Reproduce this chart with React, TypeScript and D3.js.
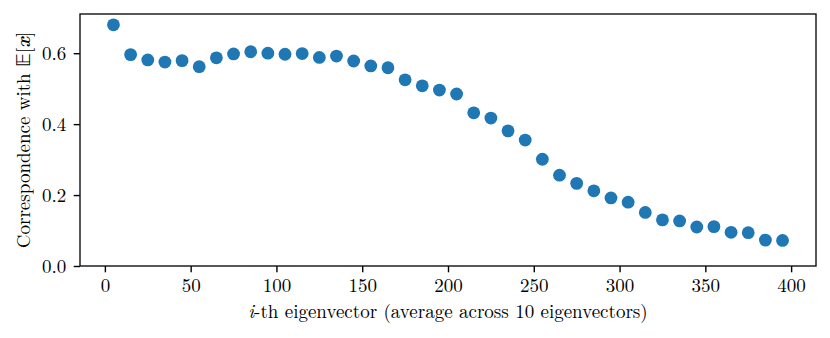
import * as d3 from "d3";
import { useLayoutEffect, useRef } from "react";

// eigenvector index (centre of each group of 10)
const eigIndex = [
  5, 15, 25, 35, 45, 55, 65, 75, 85, 95, 105, 115, 125, 135, 145, 155, 165, 175, 185, 195,
  205, 215, 225, 235, 245, 255, 265, 275, 285, 295, 305, 315, 325, 335, 345, 355, 365, 375, 385, 395,
];
// correspondence with E[x]
const correspondence = [
  0.68, 0.596, 0.581, 0.575, 0.579, 0.562, 0.587, 0.598, 0.604, 0.6, 0.597, 0.599, 0.588, 0.592,
  0.578, 0.564, 0.559, 0.525, 0.508, 0.496, 0.485, 0.432, 0.417, 0.381, 0.355, 0.301, 0.256,
  0.233, 0.212, 0.192, 0.18, 0.151, 0.13, 0.127, 0.11, 0.111, 0.095, 0.094, 0.073, 0.072,
];
const xTicks = [0, 50, 100, 150, 200, 250, 300, 350, 400];
const yTicks = [0.0, 0.2, 0.4, 0.6];

const WIDTH = 830;
const HEIGHT = 338;
const MARGIN = { top: 14, right: 14, bottom: 72, left: 80 };
const FONT = "Latin Modern Roman, Liberation Serif, serif";
const FONT_SIZE = 19;

export default function App() {
  const svgRef = useRef<SVGSVGElement>(null);

  useLayoutEffect(() => {
    const svg = d3.select(svgRef.current);
    svg.selectAll("*").remove();

    const innerW = WIDTH - MARGIN.left - MARGIN.right;
    const innerH = HEIGHT - MARGIN.top - MARGIN.bottom;

    const x = d3.scaleLinear().domain([-14.5, 414.5]).range([0, innerW]);
    const y = d3.scaleLinear().domain([0, 0.7105]).range([innerH, 0]);

    const g = svg.append("g").attr("transform", `translate(${MARGIN.left},${MARGIN.top})`);

    g.selectAll("circle.pt")
      .data(eigIndex)
      .join("circle")
      .attr("class", "pt")
      .attr("cx", (d) => x(d))
      .attr("cy", (_, i) => y(correspondence[i]))
      .attr("r", 6.4)
      .attr("fill", "#1f77b4");

    const xAxis = g
      .append("g")
      .attr("transform", `translate(0,${innerH})`)
      .call(d3.axisBottom(x).tickValues(xTicks).tickFormat(d3.format("d")).tickSizeOuter(0).tickSize(6.3).tickPadding(6.5));
    const yAxis = g
      .append("g")
      .call(d3.axisLeft(y).tickValues(yTicks).tickFormat(d3.format(".1f")).tickSizeOuter(0).tickSize(6.3).tickPadding(7.5));

    [xAxis, yAxis].forEach((ax) => {
      ax.select(".domain").remove();
      ax.selectAll(".tick line").attr("stroke", "#000").attr("stroke-width", 1.4);
      ax.selectAll(".tick text")
        .attr("fill", "#000")
        .attr("font-family", FONT)
        .attr("font-size", FONT_SIZE);
    });

    g.append("rect")
      .attr("width", innerW)
      .attr("height", innerH)
      .attr("fill", "none")
      .attr("stroke", "#111")
      .attr("stroke-width", 1.4);

    const xLabel = g
      .append("text")
      .attr("x", innerW / 2)
      .attr("y", innerH + 52)
      .attr("text-anchor", "middle")
      .attr("font-family", FONT)
      .attr("font-size", FONT_SIZE)
      .attr("fill", "#000");
    xLabel.append("tspan").attr("font-style", "italic").text("i");
    xLabel.append("tspan").text("-th eigenvector (average across 10 eigenvectors)");

    const yLabel = g
      .append("text")
      .attr("transform", `translate(${-50.5},${innerH / 2}) rotate(-90)`)
      .attr("text-anchor", "middle")
      .attr("font-family", FONT)
      .attr("font-size", FONT_SIZE)
      .attr("fill", "#000");
    yLabel.append("tspan").text("Correspondence with ");
    yLabel.append("tspan").text("\u{1D53C}");
    yLabel.append("tspan").text("[");
    yLabel.append("tspan").attr("font-style", "italic").attr("font-weight", "bold").text("x");
    yLabel.append("tspan").text("]");
  }, []);

  return (
    <svg
      ref={svgRef}
      width={WIDTH}
      height={HEIGHT}
      style={{ position: "absolute", left: 0, top: 0, background: "#fff" }}
    ></svg>
  );
}
